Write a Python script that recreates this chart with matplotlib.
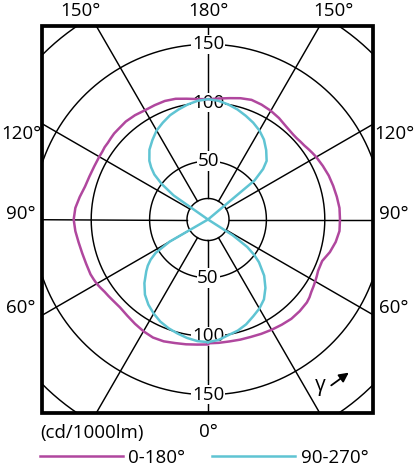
import numpy as np
import matplotlib
matplotlib.use("Agg")
import matplotlib.pyplot as plt
from matplotlib.patches import Rectangle, FancyArrowPatch

plt.rcParams['font.family'] = ['Open Sans', 'DejaVu Sans']

# ---------------- data (cd/1000lm) ----------------
gamma = [0, 5, 10, 15, 20, 25, 30, 35, 40, 45, 50, 52.5, 55, 57.5, 60, 62.5, 65,
         70, 75, 80, 85, 90, 95, 100, 105, 110, 115, 120, 122.5, 125, 127.5, 130,
         132.5, 135, 140, 145, 150, 155, 160, 165, 170, 175, 180]

# C0-C180 plane (right half = C0, left half = C180)
c0 = [106, 106, 106, 106.5, 107, 108, 109, 110, 111, 111, 110.5, 109.5, 108, 107,
      106, 105, 104, 104, 108, 111, 113, 113, 113, 112, 111, 110, 108.5, 107, 106,
      105, 104, 103.5, 103, 103, 104, 106, 107.5, 108.5, 109, 107.5, 105.5, 104, 103]
c180 = [107, 107.5, 108.5, 109.5, 111, 111.5, 110.5, 109, 107.5, 106.5, 107, 107.5,
        108, 109, 110, 110.5, 111, 111, 111.5, 112.5, 114, 115, 114, 111.5, 109, 108,
        107.5, 107.5, 107.5, 108, 108, 108.5, 109, 109, 109.5, 109, 108, 108, 108, 107,
        105, 103.5, 103]

# C90-C270 plane (right half = C90, left half = C270)
c90 = [105, 103.5, 100.5, 98.5, 95.5, 91.5, 88, 83.5, 76.5, 68, 57, 50, 41, 25,
       0, 0, 0, 0, 0, 0, 0, 0, 0, 0, 0, 0, 0, 0, 0, 0, 0, 52,
       64, 71, 77.5, 83.5, 88, 91.5, 94.5, 97.5, 100, 102, 103]
c270 = [105, 104.5, 103, 101, 99, 96.5, 93, 89, 84, 77, 69, 65, 60, 53,
        38, 0, 0, 0, 0, 0, 0, 0, 0, 0, 0, 0, 0, 0, 0, 36, 50, 60,
        66, 71, 78, 83, 88, 91.5, 95, 97.5, 100, 102, 103]

series_labels = ['0-180°', '90-270°']
series_colors = ['#B0479E', '#5FC4D3']

ring_values = [18, 50, 100, 150, 200]
ring_labels = [50, 100, 150]
spoke_angles = list(range(0, 360, 30))

top_texts = ['150°', '180°', '150°']
top_pos = [(80, 11), (208, 11), (333, 11)]
side_texts = ['120°', '90°', '60°']
side_y = [134, 214, 308]
left_x = [1, 6, 6]
right_x = [415, 409, 409]

FS = 13.5

# ---------------- layout ----------------
W, H = 416, 470
fig = plt.figure(figsize=(W / 100, H / 100), dpi=100)
cx, cy = 208, 219.5          # pole position in pixels (from top-left)
scale = 1.168                # pixels per cd
rmax = 230
R = rmax * scale
ax = fig.add_axes([(cx - R) / W, (H - cy - R) / H, 2 * R / W, 2 * R / H],
                  projection='polar')
ax.set_theta_zero_location('S')
ax.set_theta_direction(1)
ax.set_rlim(0, rmax)
ax.grid(False)
ax.set_xticks([])
ax.set_yticks([])
ax.spines['polar'].set_visible(False)
ax.patch.set_alpha(0)

bx0, bx1, by0, by1 = 41.7, 373.3, 26.0, 412.7
def box_rect(**kw):
    return Rectangle((bx0 / W, (H - by1) / H), (bx1 - bx0) / W, (by1 - by0) / H,
                     transform=fig.transFigure, **kw)
clip = box_rect(fill=False)

# grid rings and spokes
th = np.linspace(0, 2 * np.pi, 721)
for r in ring_values:
    ln, = ax.plot(th, np.full_like(th, r), color='black', lw=1.05, zorder=1)
    ln.set_clip_path(clip)
for a in spoke_angles:
    ln, = ax.plot([np.deg2rad(a)] * 2, [ring_values[0], rmax], color='black',
                  lw=1.05, zorder=1)
    ln.set_clip_path(clip)

# ring value labels (top and bottom)
for v in ring_labels:
    for t in (0, np.pi):
        ax.text(t, v, str(v), ha='center', va='center', fontsize=FS, zorder=2,
                bbox=dict(fc='white', ec='none', pad=0.5))

# curves
g = np.array(gamma, dtype=float)
theta_full = np.deg2rad(np.concatenate([g, 360 - g[::-1]]))
handles = []
for right, left, col in [(c0, c180, series_colors[0]), (c90, c270, series_colors[1])]:
    r_full = np.concatenate([np.array(right, float), np.array(left, float)[::-1]])
    ln, = ax.plot(theta_full, r_full, color=col, lw=1.8, zorder=3,
                  solid_joinstyle='round')
    ln.set_clip_path(clip)
    handles.append(ln)

# frame
fig.add_artist(box_rect(fill=False, lw=2.7, edgecolor='black', zorder=5))

# angle labels
for txt, (px, py) in zip(top_texts, top_pos):
    fig.text(px / W, 1 - py / H, txt, ha='center', va='center', fontsize=FS)
for txt, py, lx, rx in zip(side_texts, side_y, left_x, right_x):
    fig.text(lx / W, 1 - py / H, txt, ha='left', va='center', fontsize=FS)
    fig.text(rx / W, 1 - py / H, txt, ha='right', va='center', fontsize=FS)
fig.text(208 / W, 1 - 432 / H, '0°', ha='center', va='center', fontsize=FS)
fig.text(40 / W, 1 - 433 / H, '(cd/1000lm)', ha='left', va='center', fontsize=FS)

# gamma arrow
fig.text(320 / W, 1 - 386 / H, 'γ', ha='center', va='center', fontsize=15)
fig.add_artist(FancyArrowPatch(
    (329 / W, 1 - 387 / H), (351 / W, 1 - 371 / H), transform=fig.transFigure,
    arrowstyle='-|>', mutation_scale=14, lw=1.3, color='black'))

# legend
fig.legend(handles, series_labels, loc='center left',
           bbox_to_anchor=(40 / W, 1 - 458 / H), ncol=2, frameon=False,
           fontsize=FS, handlelength=4.4, handletextpad=0.3, columnspacing=1.45,
           borderpad=0, borderaxespad=0)

fig.savefig('out.png', dpi=100)
